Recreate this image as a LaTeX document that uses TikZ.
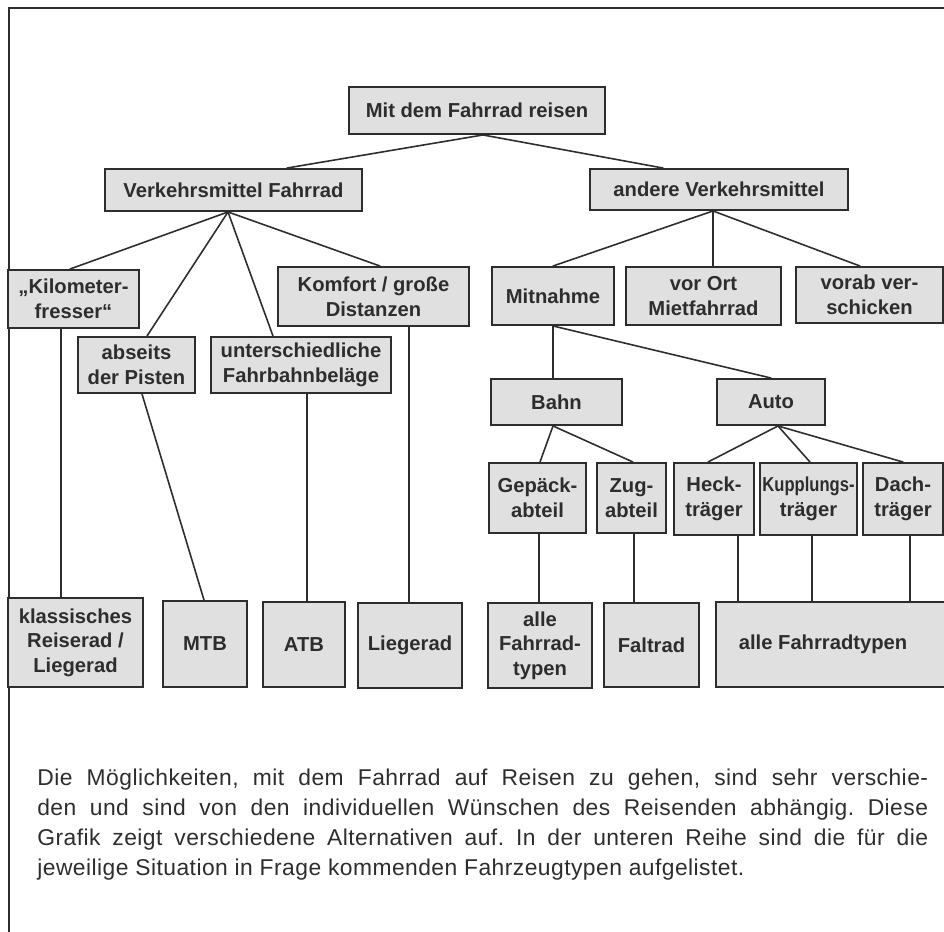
\documentclass[tikz,border=0pt]{standalone}
\usepackage{fontspec}
\setmainfont{Liberation Sans}
\newfontfamily\captionfont[LetterSpace=2]{Liberation Sans}
\usetikzlibrary{calc}

\definecolor{boxgray}{RGB}{224,224,224}
\definecolor{ink}{RGB}{45,45,45}

\tikzset{
  box/.style={draw=ink, fill=boxgray, line width=1.1pt, inner sep=0pt,
    align=center, text=ink, font=\fontsize{11.5}{14}\selectfont\bfseries},
  sz/.style 2 args={minimum width=#1*0.02cm, minimum height=#2*0.02cm},
  link/.style={draw=ink, line width=0.9pt},
}

\begin{document}
\begin{tikzpicture}[x=0.02cm, y=-0.02cm, line cap=round]
  \useasboundingbox (0,0) rectangle (944,932);

  % Rahmen
  \draw[ink, line width=1.2pt] (9,932) -- (9,8) -- (944,8);

  % Ebene 1 und 2
  \node[box, sz={256}{47}] (root) at (477,110.5) {Mit dem Fahrrad reisen};
  \node[box, sz={257}{42}] (vf) at (233.5,190) {Verkehrsmittel Fahrrad};
  \node[box, sz={258}{41}] (av) at (719,189.5) {andere Verkehrsmittel};

  % linker Zweig
  \node[box, sz={131}{58}] (km) at (73.5,299) {„Kilometer-\\fresser“};
  \node[box, sz={117}{56}] (ab) at (136.5,365) {abseits\\der Pisten};
  \node[box, sz={180}{56}] (un) at (301,365) {unterschiedliche\\Fahrbahnbeläge};
  \node[box, sz={191}{59}] (ko) at (373.5,296.5) {Komfort / große\\Distanzen};

  % rechter Zweig
  \node[box, sz={122}{58}] (mi) at (553,296) {Mitnahme};
  \node[box, sz={155}{58}] (vo) at (703.5,296) {vor Ort\\Mietfahrrad};
  \node[box, sz={147}{56}] (vs) at (869.5,295) {vorab ver-\\schicken};
  \node[box, sz={131}{46}] (ba) at (556.5,402) {Bahn};
  \node[box, sz={108}{46}] (au) at (771,402) {Auto};
  \node[box, sz={97}{70}] (ge) at (537.5,498) {Gepäck-\\abteil};
  \node[box, sz={69}{70}] (zu) at (631.5,498) {Zug-\\abteil};
  \node[box, sz={80}{72}] (he) at (714,499) {Heck-\\träger};
  \node[box, sz={97}{72}] (ku) at (808.5,499) {\scalebox{0.82}[1]{Kupplungs-}\\träger};
  \node[box, sz={80}{72}] (da) at (903,499) {Dach-\\träger};

  % untere Reihe: Fahrzeugtypen
  \node[box, sz={135}{89}] (kl) at (75.5,642.5) {klassisches\\Reiserad /\\Liegerad};
  \node[box, sz={84}{86}] (mtb) at (205,644) {MTB};
  \node[box, sz={82}{85}] (atb) at (304,644.5) {ATB};
  \node[box, sz={104}{85}] (li) at (410,645.5) {Liegerad};
  \node[box, sz={104}{85}] (af) at (540,645.5) {alle\\Fahrrad-\\typen};
  \node[box, sz={95}{84}] (fa) at (651.5,645) {Faltrad};
  \node[box, sz={234}{85}] (aw) at (833,644.5) {alle Fahrradtypen\hspace*{11.3pt}};

  % Verzweigungspunkte
  \coordinate (root-fan) at ($(root.south)+(6,0)$);
  \coordinate (vf-fan) at ($(vf.south)+(-5.5,0)$);
  \coordinate (av-fan) at ($(av.south)+(-6,0)$);
  \coordinate (ba-fan) at ($(ba.south)+(-3.5,0)$);
  \coordinate (au-fan) at ($(au.south)+(7,0)$);

  % Verbindungen
  \draw[link] (root-fan) -- ($(vf.north)+(53.5,0)$);
  \draw[link] (root-fan) -- ($(av.north)+(-56,0)$);

  \draw[link] (vf-fan) -- ($(km.north)+(-3.5,0)$);
  \draw[link] (vf-fan) -- ($(ab.north)+(10.5,0)$);
  \draw[link] (vf-fan) -- ($(un.north)+(-28,0)$);
  \draw[link] (vf-fan) -- ($(ko.north)+(6.5,0)$);

  \draw[link] (av-fan) -- (mi.north);
  \draw[link] (av-fan) -- (av-fan |- vo.north);
  \draw[link] (av-fan) -- ($(vs.north)+(-9.5,0)$);

  \draw[link] (mi.south) -- (mi.south |- ba.north);
  \draw[link] (mi.south) -- (au.north);

  \draw[link] (ba-fan) -- ($(ge.north)+(2.5,0)$);
  \draw[link] (ba-fan) -- ($(zu.north)+(1.5,0)$);
  \draw[link] (au-fan) -- ($(he.north)+(-6,0)$);
  \draw[link] (au-fan) -- ($(ku.north)+(1.5,0)$);
  \draw[link] (au-fan) -- (da.north);

  \draw[link] ($(km.south)+(-12.5,0)$) -- ($(kl.north)+(-14.5,0)$);
  \draw[link] ($(ab.south)+(5.5,0)$) -- ($(mtb.north)+(-1,0)$);
  \draw[link] ($(un.south)+(6,0)$) -- ($(atb.north)+(3,0)$);
  \draw[link] ($(ko.south)+(35.5,0)$) -- ($(li.north)+(-1,0)$);
  \draw[link] ($(ge.south)+(1.5,0)$) -- ($(af.north)+(-1,0)$);
  \draw[link] ($(zu.south)+(2.5,0)$) -- ($(fa.north)+(-17.5,0)$);
  \draw[link] ($(he.south)+(24,0)$) -- ($(aw.north)+(-95,0)$);
  \draw[link] ($(ku.south)+(3.5,0)$) -- ($(aw.north)+(-21,0)$);
  \draw[link] ($(da.south)+(7,0)$) -- ($(aw.north)+(77,0)$);

  % Bildunterschrift
  \node[anchor=north west, inner sep=0pt, text width=17.82cm, align=justify,
    text=ink] (caption) at (37,769)
    {\captionfont\fontsize{13}{17}\selectfont\frenchspacing
     Die Möglichkeiten, mit dem Fahrrad auf Reisen zu gehen, sind sehr verschie-\linebreak
     den und sind von den individuellen Wünschen des Reisenden abhängig. Diese\linebreak
     Grafik zeigt verschiedene Alternativen auf. In der unteren Reihe sind die für die\linebreak
     jeweilige Situation in Frage kommenden Fahrzeugtypen aufgelistet.\par};
\end{tikzpicture}
\end{document}
